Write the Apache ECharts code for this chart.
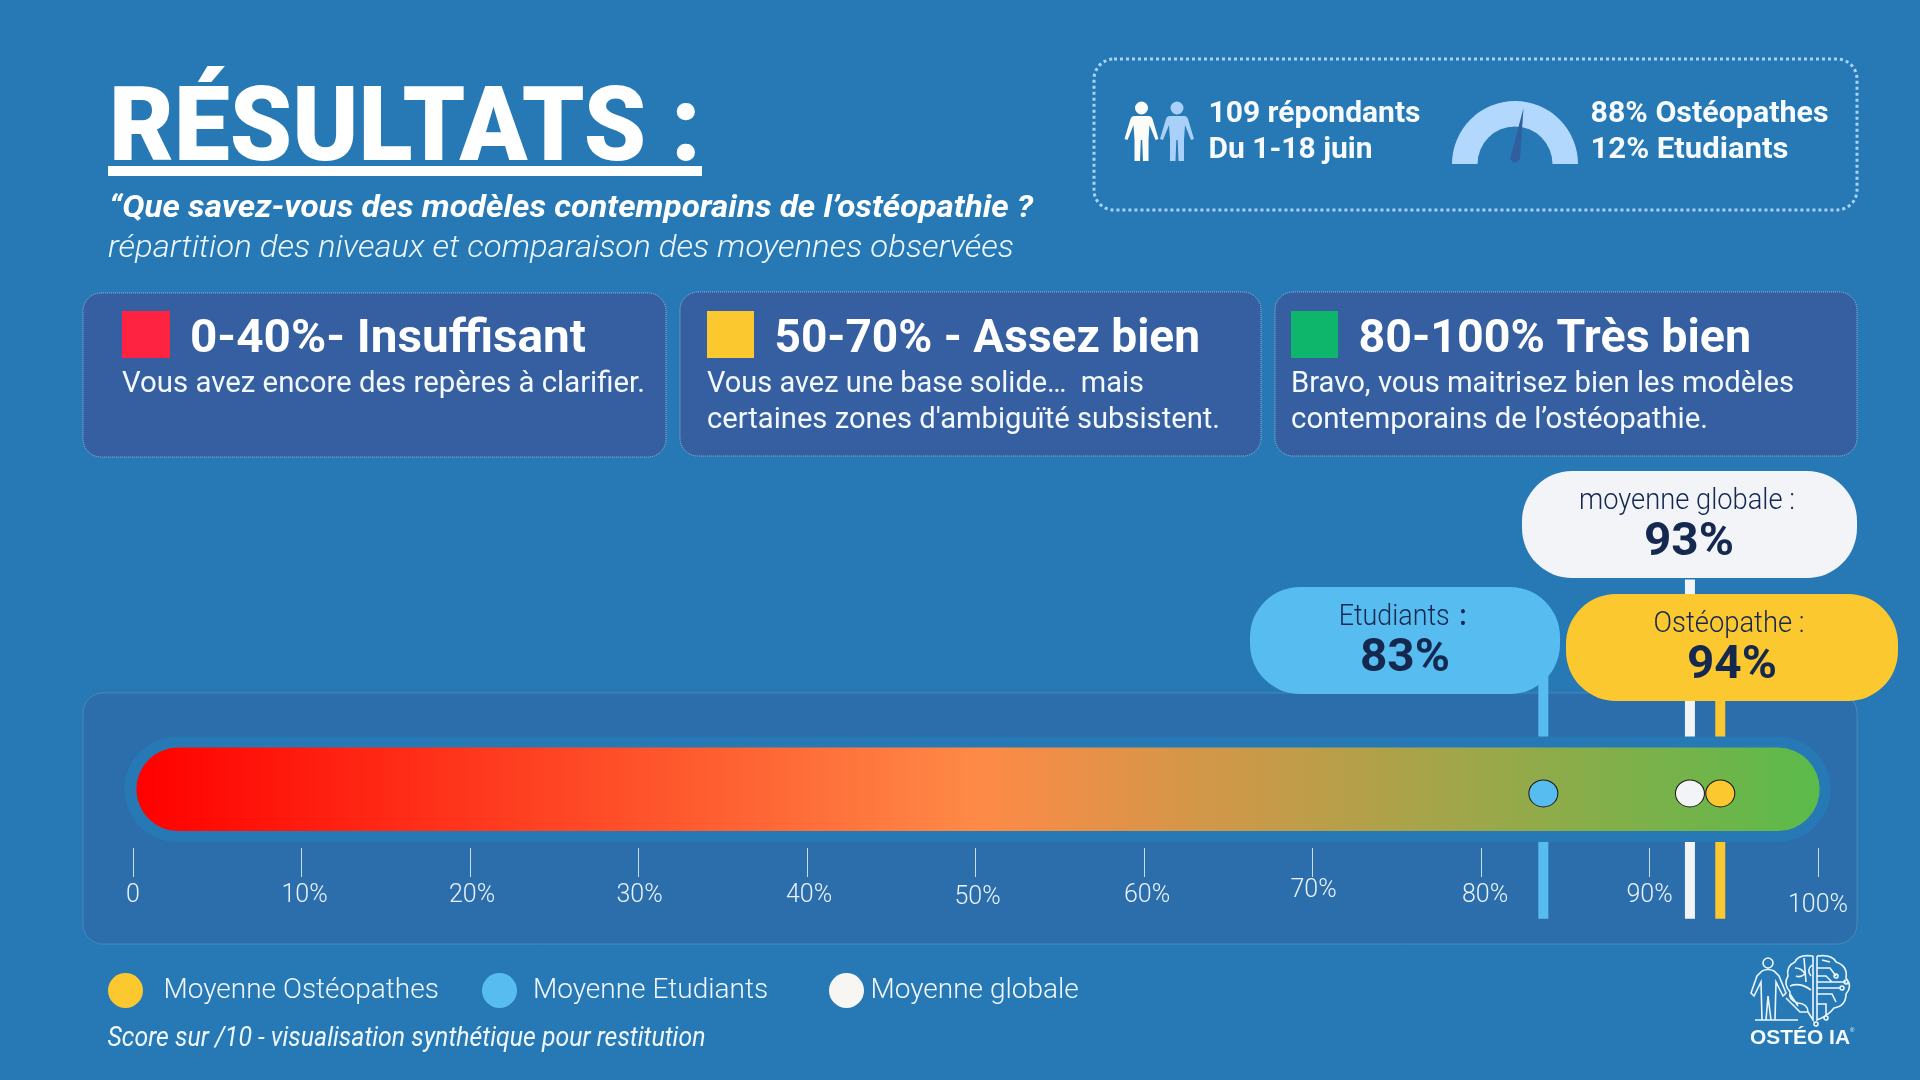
<!DOCTYPE html>
<html lang="fr"><head><meta charset="utf-8"><title>Résultats</title>
<script src="https://cdn.jsdelivr.net/npm/echarts@6/dist/echarts.min.js"></script>
<style>html,body{margin:0;padding:0;background:#2679b5}#c{width:1920px;height:1080px}</style></head>
<body><div id="c"></div><script>
// ---- data ----
const tickLabels = ['0','10%','20%','30%','40%','50%','60%','70%','80%','90%','100%'];
const tickNudges = [[0,5],[3,5],[2,5],[1,5],[2,5],[2,7],[3,5],[1,0],[4,5],[0,5],[0,15]];
const legendNames = ['Moyenne Ostéopathes','Moyenne Etudiants','Moyenne globale'];
const positions = [94.2, 83.7, 92.4];     // where each marker sits on the scale
const labelValues = [94, 83, 93];         // the printed percentages
const stemTops = [2.75, 1.9, 3.01];
const stemBottom = -1.05;
const dotLevel = 0.45;
const scaleSpan = [0.2, 100.1];
const colors = ['#fcc82f','#57bdf0','#f2f4f8'];
const legendColors = ['#fcc82f','#57bdf0','#f8f6f2'];

const INK = '#142850', WHITE = '#ffffff', BG = '#2679b5';
const FF = 'Roboto, sans-serif';
const ctx = document.createElement('canvas').getContext('2d');
function T(text, x, cy, font, fill, w, z) {
  ctx.font = font;
  const m = ctx.measureText(text).width;
  const size = parseFloat(font.match(/(\d+)px/)[1]);
  return {type:'text', x:x, y:cy+size*0.09, scaleX:w/m, z:z||5, silent:true,
    style:{text:text, font:font, fill:fill, align:'left', verticalAlign:'middle'}};
}
function TC(text, cx, cy, font, fill, w, z) { return T(text, cx-w/2, cy, font, fill, w, z); }
function R(x0,y0,x1,y1,r,fill,extra,z) {
  return {type:'rect', z:z==null?1:z, silent:true, shape:{x:x0,y:y0,width:x1-x0,height:y1-y0,r:r},
    style:Object.assign({fill:fill},extra||{})};
}
function P(d,style){return {type:'path',shape:{pathData:d},style:style};}
function person(c){
  return `M${c-6.5} 108a6.5 6.5 0 1 0 13 0a6.5 6.5 0 1 0 -13 0Z`+
   `M${c-7} 116L${c+7} 116Q${c+10} 116 ${c+11} 119L${c+17} 139L${c+14} 140L${c+8} 125L${c+7} 140L${c+7} 161L${c+1.5} 161L${c+0.7} 140L${c-0.7} 140L${c-1.5} 161L${c-7} 161L${c-7} 140L${c-8} 125L${c-14} 140L${c-17} 139L${c-11} 119Q${c-10} 116 ${c-7} 116Z`;
}
const LOGO = {fill:'none',stroke:'#eaf6ff',lineWidth:1.6};
const icons = [
  P(person(1141.5),{fill:'#fbfbf8'}),
  P(person(1177),{fill:'#a8d0f8'}),
  P('M1523.5 108L1520 159Q1515 166 1510 159Z',{fill:'#2f5f9f'}),
  // logo: figure
  P('M1768 958a5 5 0 1 0 .01 0ZM1762 971Q1768 968 1774 971L1779 976L1786 993L1783 996L1776 982L1775 1020M1762 971L1757 976L1751 993L1754 996L1761 982L1762 1020M1768 996L1766 1020M1768 996L1771 1020M1755 1020L1798 1020',LOGO),
  // logo: brain, left lobe
  P('M1813 956Q1798 954 1795 962Q1786 966 1788 976Q1783 984 1790 992Q1788 1000 1798 1003Q1808 1004 1808 1012L1813 1020L1813 956M1795 968Q1802 968 1805 974Q1800 978 1796 976M1790 986Q1800 982 1811 990M1804 958L1806 982M1812 965Q1806 970 1811 976M1786 998L1800 1012L1808 1012M1790 994L1798 1006',LOGO),
  // logo: brain, right lobe (circuit)
  P('M1817 956Q1832 954 1836 962Q1848 966 1846 978Q1853 986 1846 994Q1846 1006 1834 1008Q1828 1016 1817 1020L1817 956M1817 968L1830 968L1836 976M1817 982L1846 982M1817 988L1840 988M1817 994L1832 994L1836 1002M1817 1004L1826 1004L1826 1016M1817 976L1826 976L1832 982M1822 960L1830 962M1816 1022a2 2 0 1 0 .01 0ZM1826 1016a2 2 0 1 0 .01 0ZM1846 980a2 2 0 1 0 .01 0ZM1836 974a2 2 0 1 0 .01 0ZM1842 986a2 2 0 1 0 .01 0Z',LOGO),
];
const gfx = [
  // title
  T('RÉSULTATS :',109,125,'900 104px '+FF,WHITE,592),
  R(108,166,702,176,0,WHITE,null,5),
  T('“Que savez-vous des modèles contemporains de l’ostéopathie ?',109,206,'italic 700 32px '+FF,WHITE,924),
  T('répartition des niveaux et comparaison des moyennes observées',108,246,'italic 300 32px '+FF,'#eef7fd',906),
  // summary box
  R(1094,59,1857,210,20,'none',{stroke:'#a9d3f5',lineWidth:3,lineDash:[3,3]}),
  T('109 répondants',1208.5,112,'700 30px '+FF,'#f7fbff',212),
  T('Du 1-18 juin',1208.5,148,'700 30px '+FF,'#f7fbff',164),
  {type:'sector',z:5,silent:true,shape:{cx:1515,cy:164,r:63,r0:37.5,startAngle:Math.PI,endAngle:2*Math.PI},style:{fill:'#b3d8fe'}},
  T('88% Ostéopathes',1590.5,112,'700 30px '+FF,'#f7fbff',238),
  T('12% Etudiants',1590.5,148,'700 30px '+FF,'#f7fbff',198),
  // level cards
  R(83,293,666,457,18,'#355fa0',{stroke:'rgba(255,255,255,.5)',lineWidth:1,lineDash:[1,1]}),
  R(680,292,1261,456,18,'#355fa0',{stroke:'rgba(255,255,255,.5)',lineWidth:1,lineDash:[1,1]}),
  R(1275,292,1857,456,18,'#355fa0',{stroke:'rgba(255,255,255,.5)',lineWidth:1,lineDash:[1,1]}),
  R(122,311,170,358,0,'#fe2340',null,5),
  R(707,311,754,358,0,'#fcc82f',null,5),
  R(1291,311,1338,358,0,'#0db66a',null,5),
  T('0-40%- Insuffisant',190,336,'700 46px '+FF,WHITE,396),
  T('50-70% - Assez bien',774.5,336,'700 46px '+FF,WHITE,425.5),
  T('80-100% Très bien',1358.5,336,'700 46px '+FF,WHITE,392.5),
  T('Vous avez encore des repères à clarifier.',122,382,'400 30px '+FF,'#f2f8fd',523),
  T('Vous avez une base solide…  mais',707,382,'400 30px '+FF,'#f2f8fd',437),
  T("certaines zones d'ambiguïté subsistent.",707,418,'400 30px '+FF,'#f2f8fd',513),
  T('Bravo, vous maitrisez bien les modèles',1291,382,'400 30px '+FF,'#f2f8fd',503),
  T('contemporains de l’ostéopathie.',1291,418,'400 30px '+FF,'#f2f8fd',417),
  // chart panel (behind series)
  R(83,693,1857,944,20,'#2c6dab',{stroke:'rgba(255,255,255,.15)',lineWidth:1},-1),
  // callouts (above series)
  R(1522,471,1857,578,50,colors[2],null,50),
  TC('moyenne globale :',1687,499,'300 30px '+FF,INK,216,51),
  TC(labelValues[2]+'%',1689,539,'700 46px '+FF,INK,90,51),
  R(1250,587,1560,694,50,colors[1],null,50),
  T('Etudiants',1338.7,615,'300 30px '+FF,INK,111,51),
  T(':',1459.5,615,'700 30px '+FF,INK,7,51),
  TC(labelValues[1]+'%',1405,655,'700 46px '+FF,INK,90,51),
  R(1566,594,1898,701,50,colors[0],null,50),
  TC('Ostéopathe :',1729,622,'300 30px '+FF,INK,151,51),
  TC(labelValues[0]+'%',1732,662,'700 46px '+FF,INK,90,51),
  // footer
  T('Score sur /10 - visualisation synthétique pour restitution',107.5,1037,'italic 400 27px '+FF,'#eef7fd',598),
  // logo text
  T('OSTÉO IA',1750,1037,'700 20px "Liberation Sans", sans-serif','#f4faff',100),
  {type:'text',x:1850,y:1030,z:5,silent:true,style:{text:'®',font:'6px sans-serif',fill:'#f4faff',align:'left',verticalAlign:'middle'}},
];

const rich = {};
tickNudges.forEach((n,i)=>{ rich['t'+i] = {padding:[n[1],0,0,n[0]*2], fontFamily:'Roboto', fontWeight:300, fontSize:25, color:'#e8f3fb'}; });

function stem(i){
  return {name:'Repère '+legendNames[i], type:'line', z:2, clip:false, silent:true, symbol:'none', animation:false,
    lineStyle:{color:colors[i], width:10, cap:'butt'},
    data:[[positions[i],stemTops[i]],[positions[i],stemBottom]]};
}
function dot(i){
  return {name:legendNames[i], type:'scatter', z:5, symbol:'circle', symbolSize:[29,27], animation:false, silent:true,
    itemStyle:{color:colors[i], borderColor:'#1a1a1a', borderWidth:1, opacity:1},
    data:[[positions[i],dotLevel]]};
}
const legendLeft = [103,477,824];
const legendGap = [15,10.5,1];
const legends = legendNames.map((n,i)=>({
  left:legendLeft[i], top:968, orient:'horizontal', itemWidth:36, itemHeight:35, selectedMode:false,
  data:[{name:n, icon:'circle', itemStyle:{color:legendColors[i], borderWidth:0}}],
  textStyle:{color:'#f2f8fd', fontFamily:'Roboto', fontWeight:300, fontSize:28, padding:[2,0,0,legendGap[i]]}
}));

const chart = echarts.init(document.getElementById('c'), null, {renderer:'canvas'});
chart.setOption({
  backgroundColor:BG, animation:false,
  grid:{left:133, right:102, top:747.5, bottom:232},
  xAxis:{type:'value', min:0, max:100, interval:10, position:'bottom', splitLine:{show:false},
    axisLine:{show:false, onZero:false},
    axisTick:{show:true, length:29, lineStyle:{color:'#c9dcec', width:1}},
    axisLabel:{margin:30, showMinLabel:true, showMaxLabel:true, hideOverlap:false,
      formatter:(v)=>{const i=Math.round(v/10);return `{t${i}|${tickLabels[i]}}`;}, rich:rich}},
  yAxis:{type:'value', min:-17/84, max:1, show:false},
  legend:legends,
  tooltip:{show:false},
  graphic:{elements:gfx},
  series:[
    stem(1),stem(2),stem(0),
    {name:'Échelle', type:'custom', z:3, silent:true, animation:false, clip:false,
      encode:{x:[0,1]}, data:[scaleSpan],
      renderItem:(p,api)=>{
        const a=api.coord([api.value(0),1]), b=api.coord([api.value(1),0]);
        const w=b[0]-a[0], h=b[1]-a[1];
        return {type:'group',children:[
          {type:'rect',shape:{x:a[0]-12,y:a[1]-11,width:w+23,height:h+22,r:53},style:{fill:BG}},
          {type:'rect',shape:{x:a[0],y:a[1],width:w,height:h,r:42},
            style:{fill:new echarts.graphic.LinearGradient(0,0,1,0,[
              {offset:0,color:'#ff0000'},{offset:0.5,color:'#fe8a47'},{offset:1,color:'#5abb4b'}])}}
        ]};
      }},
    dot(1),dot(2),dot(0),
    {name:'Pictogrammes', type:'custom', coordinateSystem:'none', z:6, silent:true, animation:false, data:[0],
      renderItem:()=>({type:'group',children:icons})}
  ]
});
</script></body></html>
